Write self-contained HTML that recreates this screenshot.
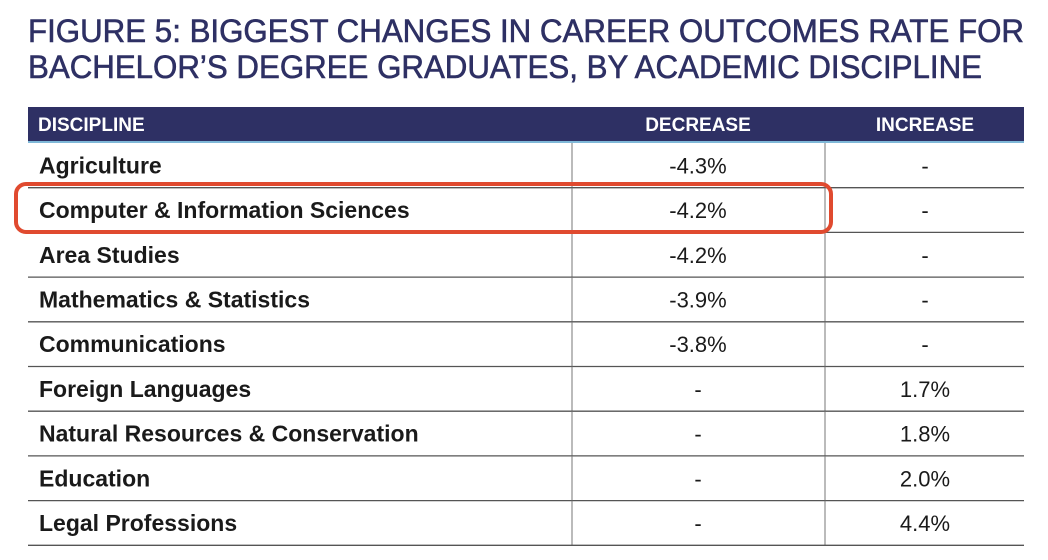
<!DOCTYPE html>
<html><head><meta charset="utf-8"><style>
html,body{margin:0;padding:0;background:#fff;width:1048px;height:560px;overflow:hidden}
svg{display:block}
</style></head><body>
<svg id="chart" width="1048" height="560" xmlns="http://www.w3.org/2000/svg">
<text x="28" y="42" font-family="Liberation Sans, sans-serif" font-size="32" fill="#2e3064" stroke="#2e3064" stroke-width="0.6" textLength="996" lengthAdjust="spacingAndGlyphs">FIGURE 5: BIGGEST CHANGES IN CAREER OUTCOMES RATE FOR</text>
<text x="28" y="78" font-family="Liberation Sans, sans-serif" font-size="32" fill="#2e3064" stroke="#2e3064" stroke-width="0.6" textLength="954" lengthAdjust="spacingAndGlyphs">BACHELOR’S DEGREE GRADUATES, BY ACADEMIC DISCIPLINE</text>
<rect x="28" y="107" width="996" height="34" fill="#2e3064"/>
<rect x="28" y="141" width="996" height="2" fill="#7fb8d8"/>
<text x="38" y="131" font-family="Liberation Sans, sans-serif" font-weight="bold" font-size="19" fill="#fff">DISCIPLINE</text>
<text x="698" y="131" text-anchor="middle" font-family="Liberation Sans, sans-serif" font-weight="bold" font-size="19" fill="#fff">DECREASE</text>
<text x="925" y="131" text-anchor="middle" font-family="Liberation Sans, sans-serif" font-weight="bold" font-size="19" fill="#fff">INCREASE</text>
<g id="rows"></g>
<rect x="16" y="184" width="815" height="48" rx="10" fill="none" stroke="#e04a2f" stroke-width="4"/>
</svg>
<script>
const disciplines = ["Agriculture","Computer & Information Sciences","Area Studies","Mathematics & Statistics","Communications","Foreign Languages","Natural Resources & Conservation","Education","Legal Professions"];
const decreases = ["-4.3%","-4.2%","-4.2%","-3.9%","-3.8%","-","-","-","-"];
const increases = ["-","-","-","-","-","1.7%","1.8%","2.0%","4.4%"];
const NS = "http://www.w3.org/2000/svg";
const g = document.getElementById("rows");
const top0 = 143, rh = 44.7;
function mk(tag, attrs){const e=document.createElementNS(NS,tag);for(const k in attrs)e.setAttribute(k,attrs[k]);g.appendChild(e);return e;}
disciplines.forEach((d,i)=>{
  const y0 = top0 + i*rh, yb = y0 + rh, ty = y0 + rh/2 + 8;
  const v1 = mk("line",{x1:572,x2:572,y1:y0,y2:yb,stroke:"#777","stroke-width":1});
  
  
  const v2 = mk("line",{x1:825,x2:825,y1:y0,y2:yb,stroke:"#777","stroke-width":1});
  
  
  const hl = mk("line",{x1:28,x2:1024,y1:yb,y2:yb,stroke:"#555","stroke-width":1.3});
  
  
  const t = mk("text",{x:39,y:ty,"font-family":"Liberation Sans, sans-serif","font-weight":"bold","font-size":23,fill:"#1a1a1a"});
  t.textContent = d;
  
  
  const a = mk("text",{x:698,y:ty,"text-anchor":"middle","font-family":"Liberation Sans, sans-serif","font-size":22,fill:"#1a1a1a"});
  a.textContent = decreases[i];
  
  
  const b = mk("text",{x:925,y:ty,"text-anchor":"middle","font-family":"Liberation Sans, sans-serif","font-size":22,fill:"#1a1a1a"});
  b.textContent = increases[i];
  
  
});
</script>
</body></html>
